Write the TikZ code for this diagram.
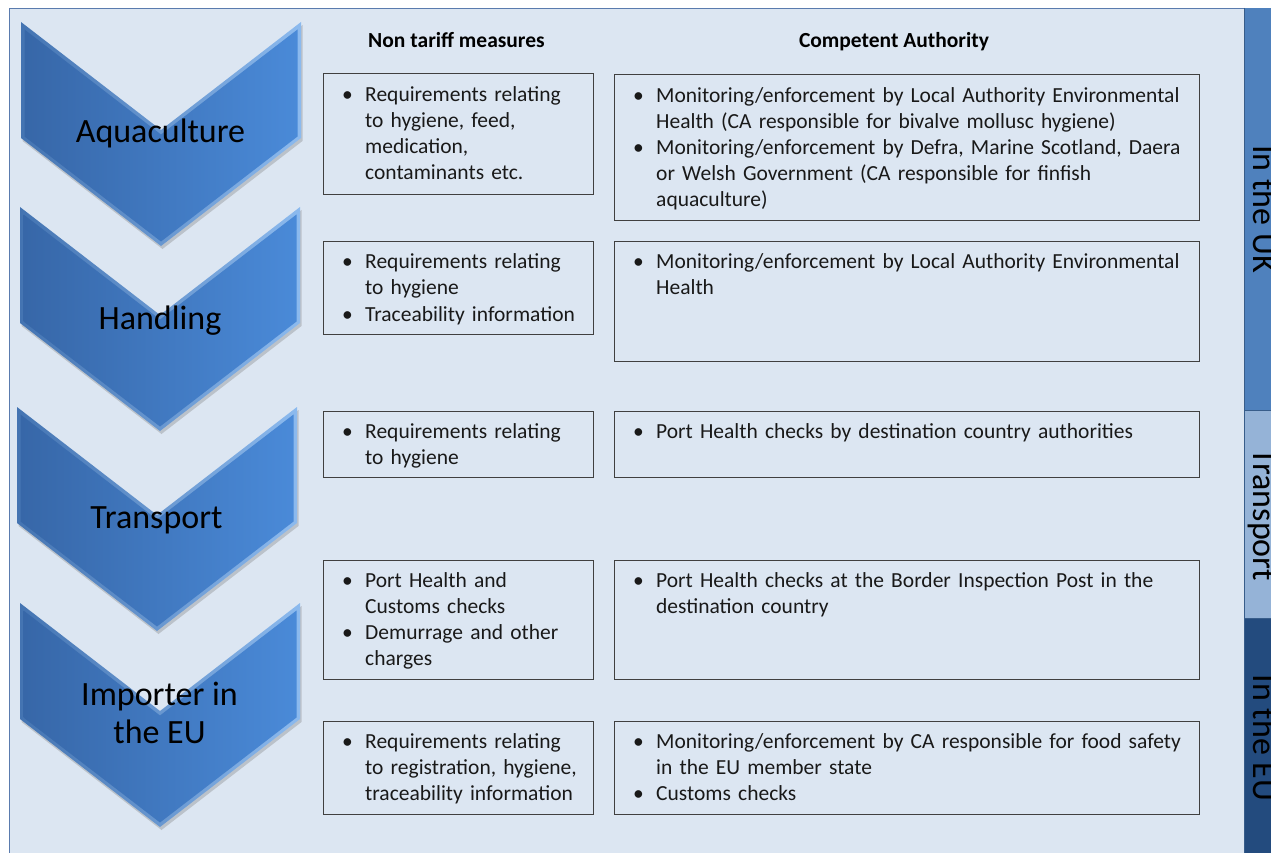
\documentclass[tikz,border=0pt]{standalone}
\usepackage{fontspec}
\setmainfont{Carlito}
\usetikzlibrary{shadows}
\definecolor{bgfill}{HTML}{DCE6F2}
\definecolor{bgline}{HTML}{5A7BAE}
\definecolor{boxline}{HTML}{404040}
\definecolor{barUK}{HTML}{4F81BD}
\definecolor{barTR}{HTML}{95B3D7}
\definecolor{barEU}{HTML}{234B7E}
\definecolor{barline}{HTML}{385D8A}
\definecolor{chevL}{HTML}{3767A8}
\definecolor{chevR}{HTML}{4A8AD8}
\definecolor{rimL}{HTML}{4474B2}
\definecolor{rimR}{HTML}{8CBAEE}
\newcommand{\blt}[1]{\noindent\hangindent=23pt\hangafter=1\rule{0pt}{20pt}\makebox[23pt][l]{\textbullet}#1\par}
\newcommand{\chev}[2]{%
  \begin{scope}[shift={(#1,#2)}]
    \path[drop shadow={opacity=0.35,shadow xshift=1.5pt,shadow yshift=-3pt}, left color=rimL, right color=rimR]
      (0,0) -- (140,108) -- (280,0) -- (280,116) -- (140,224) -- (0,116) -- cycle;
    \path[left color=chevL, right color=chevR]
      (3.5,7.5) -- (140,112.5) -- (276.5,7.5) -- (276.5,114.5) -- (140,219.5) -- (3.5,114.5) -- cycle;
  \end{scope}}
\tikzset{
  nbox/.style={draw=boxline, line width=0.9pt, fill=bgfill, inner sep=0pt, anchor=north west, minimum width=270pt},
  cbox/.style={draw=boxline, line width=0.9pt, fill=bgfill, inner sep=0pt, anchor=north west, minimum width=585pt},
  ltext/.style={anchor=north west, inner sep=0pt, text width=260pt, align=left, text=black!90,
    font=\fontsize{21.5}{26.2}\selectfont},
  rtext/.style={anchor=north west, inner sep=0pt, text width=560pt, align=left, text=black!90,
    font=\fontsize{21.5}{26.2}\selectfont},
  head/.style={anchor=base, inner sep=0pt, font=\fontsize{21.5}{26}\selectfont\bfseries},
  chevlabel/.style={inner sep=0pt, align=center, font=\fontsize{34}{38}\selectfont, text=black},
  bartext/.style={rotate=-90, anchor=base, inner sep=0pt, font=\fontsize{34}{38}\selectfont, text=black},
}
\begin{document}
\begin{tikzpicture}[x=1pt, y=-1pt]
\useasboundingbox (0,0) rectangle (1271,853);
\clip (0,0) rectangle (1271,853);
\fill[white] (0,0) rectangle (1271,853);
% background panel
\draw[bgline, line width=0.8pt, fill=bgfill] (9,8) rectangle (1290,870);
% right bar
\fill[barUK] (1244,8) rectangle (1290,410);
\fill[barTR] (1244,410) rectangle (1290,618);
\fill[barEU] (1244,618) rectangle (1290,870);
\draw[barline, line width=0.8pt] (1244,8) -- (1244,870);
\draw[barline, line width=0.8pt] (1244,410) -- (1290,410);
\draw[barline, line width=0.8pt] (1244,618) -- (1290,618);
\node[bartext] (uk) at (1253,209) {In the UK};
\node[bartext] (tr) at (1253,515) {Transport};
\node[bartext] (eu) at (1253,738) {In the EU};
% chevrons
\chev{21}{22}
\chev{20}{207}
\chev{17}{407}
\chev{20}{603}
\node[chevlabel, anchor=base] (aq) at (160.5,143) {Aquaculture};
\node[chevlabel, anchor=base] (ha) at (160,329) {Handling};
\node[chevlabel, anchor=base] (tp) at (156.5,528) {Transport};
\node[chevlabel, anchor=north] (im) at (159.5,675) {\rule{0pt}{30pt}Importer in\\the EU};
% headers
\node[head] (h1) at (456.5,48) {Non tariff measures};
\node[head] (h2) at (894,48) {Competent Authority};
% left boxes
\node[nbox, minimum height=121pt] (L1) at (323,73) {};
\node[nbox, minimum height=93pt] (L2) at (323,241) {};
\node[nbox, minimum height=66pt] (L3) at (323,411) {};
\node[nbox, minimum height=119pt] (L4) at (323,560) {};
\node[nbox, minimum height=93pt] (L5) at (323,721) {};
% right boxes
\node[cbox, minimum height=146pt] (R1) at (614,74) {};
\node[cbox, minimum height=120pt] (R2) at (614,241) {};
\node[cbox, minimum height=66pt] (R3) at (614,411) {};
\node[cbox, minimum height=119pt] (R4) at (614,560) {};
\node[cbox, minimum height=93pt] (R5) at (614,721) {};
% left texts
\node[ltext] (tL1) at ([xshift=19pt,yshift=-8pt]L1.north west) {\blt{Requirements relating\newline to hygiene, feed,\newline medication,\newline contaminants etc.}};
\node[ltext] (tL2) at ([xshift=19pt,yshift=-7.5pt]L2.north west) {\blt{Requirements relating\newline to hygiene}\blt{Traceability information}};
\node[ltext] (tL3) at ([xshift=19pt,yshift=-7pt]L3.north west) {\blt{Requirements relating\newline to hygiene}};
\node[ltext] (tL4) at ([xshift=19pt,yshift=-7pt]L4.north west) {\blt{Port Health and\newline Customs checks}\blt{Demurrage and other\newline charges}};
\node[ltext] (tL5) at ([xshift=19pt,yshift=-7pt]L5.north west) {\blt{Requirements relating\newline to registration, hygiene,\newline traceability information}};
% right texts
\node[rtext] (tR1) at ([xshift=19pt,yshift=-8pt]R1.north west) {\blt{Monitoring/enforcement by Local Authority Environmental\newline Health (CA responsible for bivalve mollusc hygiene)}\blt{Monitoring/enforcement by Defra, Marine Scotland, Daera\newline or Welsh Government (CA responsible for finfish\newline aquaculture)}};
\node[rtext] (tR2) at ([xshift=19pt,yshift=-7.5pt]R2.north west) {\blt{Monitoring/enforcement by Local Authority Environmental\newline Health}};
\node[rtext] (tR3) at ([xshift=19pt,yshift=-7pt]R3.north west) {\blt{Port Health checks by destination country authorities}};
\node[rtext] (tR4) at ([xshift=19pt,yshift=-7pt]R4.north west) {\blt{Port Health checks at the Border Inspection Post in the\newline destination country}};
\node[rtext] (tR5) at ([xshift=19pt,yshift=-7pt]R5.north west) {\blt{Monitoring/enforcement by CA responsible for food safety\newline in the EU member state}\blt{Customs checks}};
\end{tikzpicture}
\end{document}
